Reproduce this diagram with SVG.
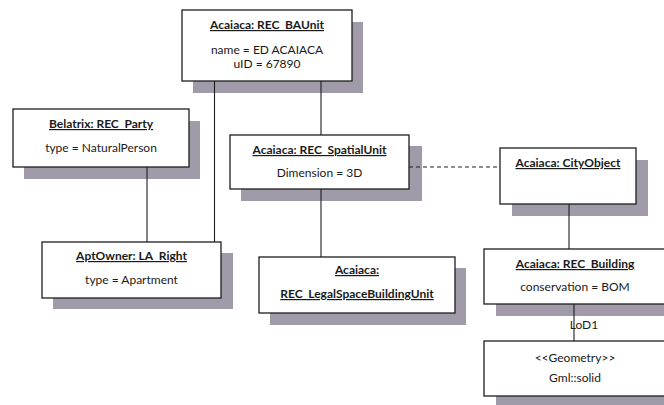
<svg xmlns="http://www.w3.org/2000/svg" width="664" height="405" viewBox="0 0 664 405">
  <style>
    .shadow { fill: #a19aa9; }
    .box { fill: #ffffff; stroke: #1e1e1e; stroke-width: 1.3; }
    .edge { stroke: #1e1e1e; stroke-width: 1.1; fill: none; }
    .dashed { stroke-dasharray: 4 3; }
    text { font-family: Lato, "Open Sans", "Liberation Sans", sans-serif; font-size: 12px; fill: #1a1a1a; text-anchor: middle; }
    .title { font-weight: bold; text-decoration: underline; }
  </style>

  <!-- drop shadows -->
  <g id="shadows">
    <rect class="shadow" x="193" y="22" width="170" height="71"/>
    <rect class="shadow" x="24" y="121" width="176" height="58"/>
    <rect class="shadow" x="241" y="146" width="181" height="55"/>
    <rect class="shadow" x="512" y="160" width="136" height="56"/>
    <rect class="shadow" x="53" y="253" width="180" height="56"/>
    <rect class="shadow" x="270" y="268" width="196" height="57"/>
    <rect class="shadow" x="496" y="261" width="182" height="55"/>
    <rect class="shadow" x="496" y="353" width="182" height="55"/>
  </g>

  <!-- connectors -->
  <g id="connectors">
    <line class="edge" x1="214.5" y1="80" x2="214.5" y2="242"/>
    <line class="edge" x1="321" y1="80" x2="321" y2="135"/>
    <line class="edge" x1="147" y1="167" x2="147" y2="242"/>
    <line class="edge" x1="321" y1="189" x2="321" y2="257"/>
    <line class="edge dashed" x1="409" y1="167" x2="500" y2="167"/>
    <line class="edge" x1="569" y1="204" x2="569" y2="249"/>
    <line class="edge" x1="574" y1="304" x2="574" y2="341"/>
    <text x="584" y="329">LoD1</text>
  </g>

  <g id="ba-unit">
    <rect class="box" x="182" y="10" width="170" height="71"/>
    <text class="title" x="267" y="29">Acaiaca: REC_BAUnit</text>
    <text x="267" y="54">name = ED ACAIACA</text>
    <text x="267" y="68">uID = 67890</text>
  </g>

  <g id="party">
    <rect class="box" x="13" y="109" width="176" height="58"/>
    <text class="title" x="101" y="128">Belatrix: REC_Party</text>
    <text x="101" y="152">type = NaturalPerson</text>
  </g>

  <g id="spatial-unit">
    <rect class="box" x="230" y="135" width="179" height="54"/>
    <text class="title" x="319.5" y="154">Acaiaca: REC_SpatialUnit</text>
    <text x="319.5" y="177">Dimension = 3D</text>
  </g>

  <g id="city-object">
    <rect class="box" x="500" y="148" width="136" height="56"/>
    <text class="title" x="568" y="167">Acaiaca: CityObject</text>
  </g>

  <g id="la-right">
    <rect class="box" x="42" y="242" width="179" height="56"/>
    <text class="title" x="131.5" y="260">AptOwner: LA_Right</text>
    <text x="131.5" y="284">type = Apartment</text>
  </g>

  <g id="legal-space">
    <rect class="box" x="259" y="257" width="196" height="56"/>
    <text class="title" x="357" y="274">Acaiaca:</text>
    <text class="title" x="357" y="298">REC_LegalSpaceBuildingUnit</text>
  </g>

  <g id="building">
    <rect class="box" x="484" y="249" width="182" height="55"/>
    <text class="title" x="575" y="268">Acaiaca: REC_Building</text>
    <text x="575" y="291">conservation = BOM</text>
  </g>

  <g id="geometry">
    <rect class="box" x="484" y="341" width="182" height="55"/>
    <text x="575" y="362">&lt;&lt;Geometry&gt;&gt;</text>
    <text x="575" y="382">Gml::solid</text>
  </g>
</svg>
